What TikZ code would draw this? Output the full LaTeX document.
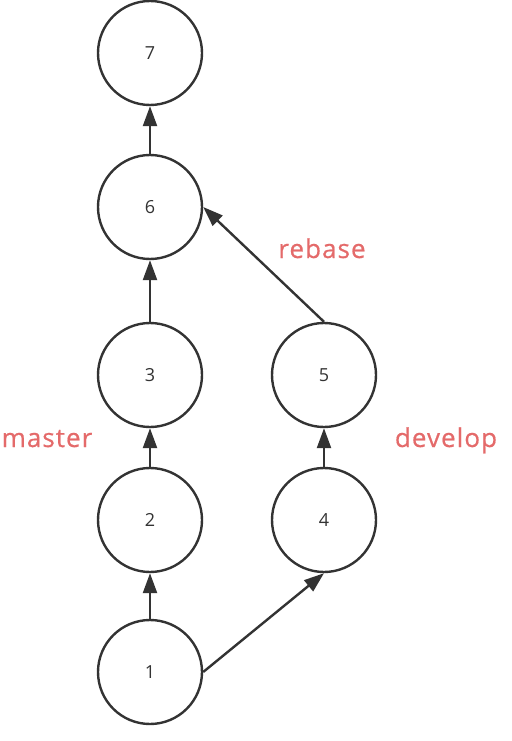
\documentclass[tikz,border=0pt]{standalone}
\usepackage{fontspec}
\setmainfont{Open Sans}
\newfontfamily\lblfont[LetterSpace=4,FakeBold=0.6]{Open Sans}
\usetikzlibrary{arrows.meta}
\definecolor{ink}{HTML}{333333}
\definecolor{tag}{HTML}{E46A6A}
\tikzset{
  commit/.style={circle, draw=ink, line width=2.4pt, minimum size=104pt, inner sep=0pt,
    font=\fontsize{18}{18}\selectfont, text=ink},
  link/.style={draw=ink, line width=2.4pt, -{Triangle[length=20pt,width=14pt]}},
  branch/.style={font=\lblfont\fontsize{26}{26}\selectfont, text=tag, anchor=base}
}
\begin{document}
\begin{tikzpicture}[x=1pt,y=-1pt]
  \useasboundingbox (0,0) rectangle (511,741);
  % master line
  \node[commit] (c7) at (150,53) {7};
  \node[commit] (c6) at (150,207) {6};
  \node[commit] (c3) at (150,375) {3};
  \node[commit] (c2) at (150,520) {2};
  \node[commit] (c1) at (150,672) {1};
  % develop line
  \node[commit] (c5) at (324,375) {5};
  \node[commit] (c4) at (324,520) {4};
  % history edges
  \draw[link] (c1.north) -- (c2.south);
  \draw[link] (c2.north) -- (c3.south);
  \draw[link] (c3.north) -- (c6.south);
  \draw[link] (c6.north) -- (c7.south);
  \draw[link] (c1.east) -- (c4.south);
  \draw[link] (c4.north) -- (c5.south);
  \draw[link] (c5.north) -- (c6.east);
  % branch labels
  \node[branch] (lmaster) at (47,447) {master};
  \node[branch] (ldevelop) at (446,447) {develop};
  \node[branch] (lrebase) at (322,258) {rebase};
\end{tikzpicture}
\end{document}
